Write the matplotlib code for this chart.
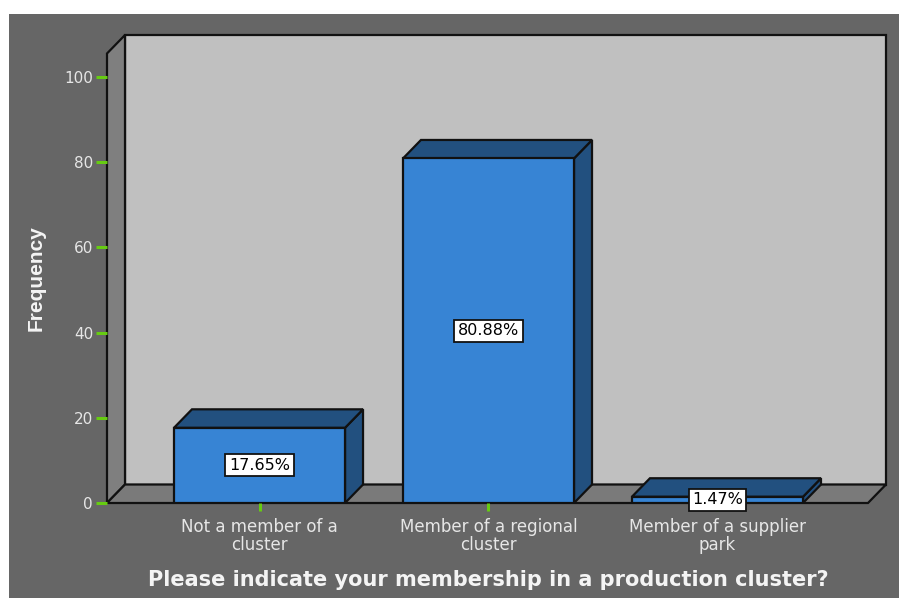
import matplotlib
matplotlib.use("Agg")
import matplotlib.pyplot as plt
from matplotlib.patches import Polygon, Rectangle

# membership counts, expressed as percent of respondents
categories = ["Not a member of a\ncluster",
              "Member of a regional\ncluster",
              "Member of a supplier\npark"]
percents = [17.65, 80.88, 1.47]
yticks = [0, 20, 40, 60, 80, 100]

BG = "#666666"
WALL = "#c0c0c0"
SIDE_WALL = "#7f7f7f"
FLOOR = "#7a7a7a"
BAR_FRONT = "#3784d4"
BAR_DARK = "#22507f"
TICK = "#66cc11"
TXT = "#e6e6e6"

fig = plt.figure(figsize=(8.99, 5.98), dpi=100, facecolor="white")
fig.patches.append(Rectangle((9 / 899, 0), 1, 1 - 14 / 598, transform=fig.transFigure,
                             facecolor=BG, edgecolor="none", zorder=-5))

ax = fig.add_axes([107 / 899, 95 / 598, 779 / 899, 468 / 598])
ax.set_facecolor("none")
for s in ax.spines.values():
    s.set_visible(False)

x0, x1 = -0.666, 2.736
ytop = 109.86
ax.set_xlim(x0, x1)
ax.set_ylim(0, ytop)

# depth of the pseudo-3d box in data units
DX, DY = 0.0786, 4.34
bw = 0.747
edge = dict(edgecolor="#111111", linewidth=1.6, joinstyle="miter")

# back wall, left wall and floor
ax.add_patch(Polygon([(x0 + DX, DY), (x1, DY), (x1, ytop), (x0 + DX, ytop)],
                     facecolor=WALL, zorder=1, clip_on=False, **edge))
ax.add_patch(Polygon([(x0, 0), (x0 + DX, DY), (x0 + DX, ytop), (x0, ytop - DY)],
                     facecolor=SIDE_WALL, zorder=1, clip_on=False, **edge))
ax.add_patch(Polygon([(x0, 0), (x1 - DX, 0), (x1, DY), (x0 + DX, DY)],
                     facecolor=FLOOR, zorder=1, clip_on=False, **edge))

for i, v in enumerate(percents):
    l, r = i - bw / 2, i + bw / 2
    ax.add_patch(Polygon([(r, 0), (r + DX, DY), (r + DX, v + DY), (r, v)],
                         facecolor=BAR_DARK, zorder=3, **edge))
    ax.add_patch(Polygon([(l, v), (r, v), (r + DX, v + DY), (l + DX, v + DY)],
                         facecolor=BAR_DARK, zorder=3, **edge))
    ax.add_patch(Rectangle((l, 0), bw, v, facecolor=BAR_FRONT, zorder=4, **edge))
    ax.text(i, v / 2, f"{v:.2f}%", ha="center", va="center", fontsize=11.5,
            color="black", zorder=6,
            bbox=dict(boxstyle="square,pad=0.22", facecolor="white",
                      edgecolor="#111111", linewidth=1.3))

ax.set_yticks(yticks)
ax.set_yticklabels([str(t) for t in yticks])
ax.set_xticks(range(len(categories)))
ax.set_xticklabels(categories, linespacing=1.0)
ax.tick_params(axis="y", colors=TICK, labelcolor=TXT, length=8, width=2.2,
               labelsize=11, pad=2)
ax.tick_params(axis="x", colors=TICK, labelcolor=TXT, length=6, width=2.2,
               labelsize=12, pad=5)

fig.text(488 / 899, 1 - 580 / 598,
         "Please indicate your membership in a production cluster?",
         ha="center", va="center", fontsize=15, fontweight="bold", color="#f4f4f4")
fig.text(36 / 899, 1 - 278 / 598, "Frequency", rotation=90, ha="center", va="center",
         fontsize=15, fontweight="bold", color="#f4f4f4", family="Liberation Sans")

fig.savefig("out.png", dpi=100, facecolor=fig.get_facecolor())
